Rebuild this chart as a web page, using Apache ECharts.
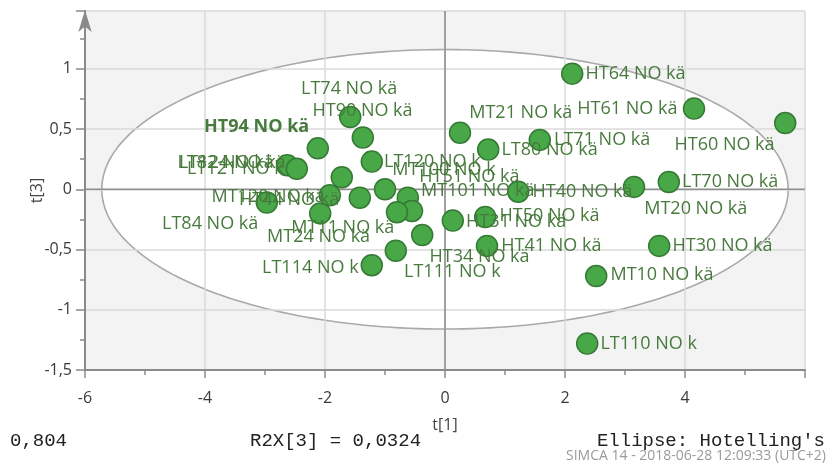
<!DOCTYPE html>
<html>
<head>
<meta charset="utf-8">
<script src="https://cdn.jsdelivr.net/npm/echarts@6/dist/echarts.min.js"></script>
<style>html,body{margin:0;padding:0;background:#fff}#c{width:834px;height:466px}</style>
</head>
<body>
<div id="c"></div>
<script>
// ---- data ----
const names = [
  'HT64 NO kä','HT61 NO kä','HT60 NO kä','LT70 NO kä','MT20 NO kä','HT30 NO kä','MT10 NO kä','LT110 NO k',
  'MT21 NO kä','LT80 NO kä','LT71 NO kä','HT40 NO kä','HT31 NO kä','HT50 NO kä','HT41 NO kä','HT34 NO kä',
  'LT111 NO k','LT114 NO k','LT120 NO k','MT100 NO k','MT101 NO kä','HT51 NO kä','MT11 NO kä','HT90 NO kä',
  'LT74 NO kä','HT94 NO kä','LT82 NO kä','LT121 NO k','LT84 NO kä','MT120 NO kä','HT44 NO kä','MT24 NO kä',
  'LT124 NO kä'
];
const t1 = [
  2.12, 4.15, 5.67, 3.73, 3.15, 3.57, 2.52, 2.37,
  0.25, 0.72, 1.58, 1.22, 0.13, 0.67, 0.70, -0.38,
  -0.82, -1.22, -1.22, -1.00, -0.62, -0.55, -0.80, -1.58,
  -1.37, -2.12, -2.63, -2.47, -2.97, -2.08, -1.92, -1.42,
  -1.72
];
const t3 = [
  0.96, 0.67, 0.55, 0.06, 0.02, -0.47, -0.72, -1.28,
  0.47, 0.33, 0.41, -0.02, -0.26, -0.23, -0.47, -0.38,
  -0.51, -0.63, 0.23, 0.00, -0.07, -0.18, -0.19, 0.60,
  0.43, 0.34, 0.20, 0.17, -0.11, -0.20, -0.05, -0.07,
  0.10
];
const ellipseAxes = [5.72, 1.16];   // Hotelling's T2 ellipse semi-axes (t[1], t[3])
const xTicks = { min: -6, max: 6, step: 2 };
const yTicks = { min: -1.5, max: 1.48, step: 0.5 };
const footer = { left: '0,804', mid: 'R2X[3] = 0,0324', right: "Ellipse: Hotelling's", stamp: 'SIMCA 14 - 2018-06-28 12:09:33 (UTC+2)' };

// label placement (pixel offsets of label start from the point centre)
const labelOffsets = [
  [14,1],[-116,1],[-110,23],[14,1],[11,23],[14,1],[15,0],[14,1],
  [10,-19],[14,1],[15,1],[15,1],[14,2],[15,0],[15,1],[8,23],
  [9,22],[-109,3],[13,1],[8,-19],[14,-6],[8,-33],[-105,16],[-37,-5],
  [-61,-48],[-113,-21],[-109,-2],[-109,1],[-104,22],[-108,-16],[-90,5],[-92,40],
  [-162,-14]
];

const SYM = 21;
const fmt = v => String(Math.round(v * 100) / 100).replace('.', ',');
const labelColor = '#477a3c';

const points = names.map((n, i) => ({
  value: [t1[i], t3[i]],
  name: n,
  label: {
    position: [labelOffsets[i][0] + SYM / 2, labelOffsets[i][1] + SYM / 2],
    fontWeight: n.startsWith('HT94') ? 'bold' : 'normal'
  }
}));

const chart = echarts.init(document.getElementById('c'), null, { renderer: 'canvas' });
chart.setOption({
  animation: false,
  backgroundColor: '#ffffff',
  grid: { left: 85, right: 29, top: 11, bottom: 96, containLabel: false },
  xAxis: {
    type: 'value', min: xTicks.min, max: xTicks.max, interval: xTicks.step,
    name: 't[1]', nameLocation: 'middle', nameGap: 47,
    nameTextStyle: { fontFamily: 'Open Sans', fontSize: 16, color: '#444' },
    axisLine: { onZero: false, lineStyle: { color: '#8a8a8a', width: 2 } },
    axisTick: { show: true, length: 8, lineStyle: { color: '#8a8a8a', width: 1.5 } },
    minorTick: { show: true, splitNumber: 2, length: 5, lineStyle: { color: '#8a8a8a', width: 1.5 } },
    axisLabel: { formatter: fmt, showMaxLabel: false, margin: 20, fontFamily: 'Open Sans', fontSize: 16, color: '#3a3a3a' },
    splitLine: { show: true, lineStyle: { color: '#dadada', width: 1.5 } }
  },
  yAxis: {
    type: 'value', min: yTicks.min, max: yTicks.max, interval: yTicks.step,
    name: 't[3]', nameLocation: 'middle', nameGap: 40, nameRotate: 90, nameMoveOverlap: false,
    nameTextStyle: { fontFamily: 'Open Sans', fontSize: 16, color: '#444' },
    axisLine: { onZero: false, symbol: ['none', 'arrow'], symbolSize: [10, 22], symbolOffset: [0, 1], lineStyle: { color: '#8a8a8a', width: 2 } },
    axisTick: { show: true, length: 9, lineStyle: { color: '#8a8a8a', width: 1.5 } },
    minorTick: { show: true, splitNumber: 2, length: 5, lineStyle: { color: '#8a8a8a', width: 1.5 } },
    axisLabel: { formatter: fmt, showMaxLabel: false, margin: 13, fontFamily: 'Open Sans', fontSize: 16, color: '#3a3a3a' },
    splitLine: { show: true, lineStyle: { color: '#dadada', width: 1.5 } }
  },
  series: [
    {
      type: 'custom', z: -1, silent: true, clip: false,
      data: [[0, 0]],
      renderItem: function (params, api) {
        const cs = params.coordSys;
        const pts = [];
        for (let i = 0; i <= 240; i++) {
          const a = i / 240 * Math.PI * 2;
          pts.push(api.coord([ellipseAxes[0] * Math.cos(a), ellipseAxes[1] * Math.sin(a)]));
        }
        return {
          type: 'group',
          children: [
            { type: 'rect', shape: { x: cs.x, y: cs.y, width: cs.width, height: cs.height }, style: { fill: '#f3f3f3' } },
            { type: 'polygon', shape: { points: pts }, style: { fill: '#ffffff', stroke: '#a9a9a9', lineWidth: 1.6 } }
          ]
        };
      }
    },
    {
      type: 'custom', z: 1, silent: true, clip: true,
      data: [[0, 0]],
      renderItem: function (params, api) {
        const top = api.coord([0, yTicks.max]);
        const bot = api.coord([0, yTicks.min]);
        const l = api.coord([xTicks.min, 0]);
        const r = api.coord([xTicks.max, 0]);
        return {
          type: 'group',
          children: [
            { type: 'line', shape: { x1: top[0], y1: top[1], x2: bot[0], y2: bot[1] }, style: { stroke: '#8f8f8f', lineWidth: 1.6 } },
            { type: 'line', shape: { x1: l[0], y1: l[1], x2: r[0], y2: r[1] }, style: { stroke: '#8f8f8f', lineWidth: 1.6 } }
          ]
        };
      }
    },
    {
      type: 'scatter', z: 3,
      symbol: 'circle', symbolSize: SYM,
      itemStyle: { color: '#48a848', borderColor: '#347a34', borderWidth: 1.5, opacity: 1 },
      label: {
        show: true, align: 'left', verticalAlign: 'middle',
        formatter: p => p.name,
        fontFamily: 'Open Sans', fontSize: 18, color: labelColor
      },
      labelLayout: { hideOverlap: false },
      emphasis: { disabled: true },
      data: points
    }
  ],
  graphic: [
    { type: 'text', left: 10, top: 431, style: { text: footer.left, font: '19px "Liberation Mono"', fill: '#222' } },
    { type: 'text', left: 250, top: 431, style: { text: footer.mid, font: '19px "Liberation Mono"', fill: '#222' } },
    { type: 'text', right: 9, top: 431, style: { text: footer.right, font: '19px "Liberation Mono"', fill: '#222' } },
    { type: 'text', right: 8, top: 449, style: { text: footer.stamp, font: '14px "Open Sans"', fill: '#9a9a9a' } }
  ]
});
</script>
</body>
</html>
